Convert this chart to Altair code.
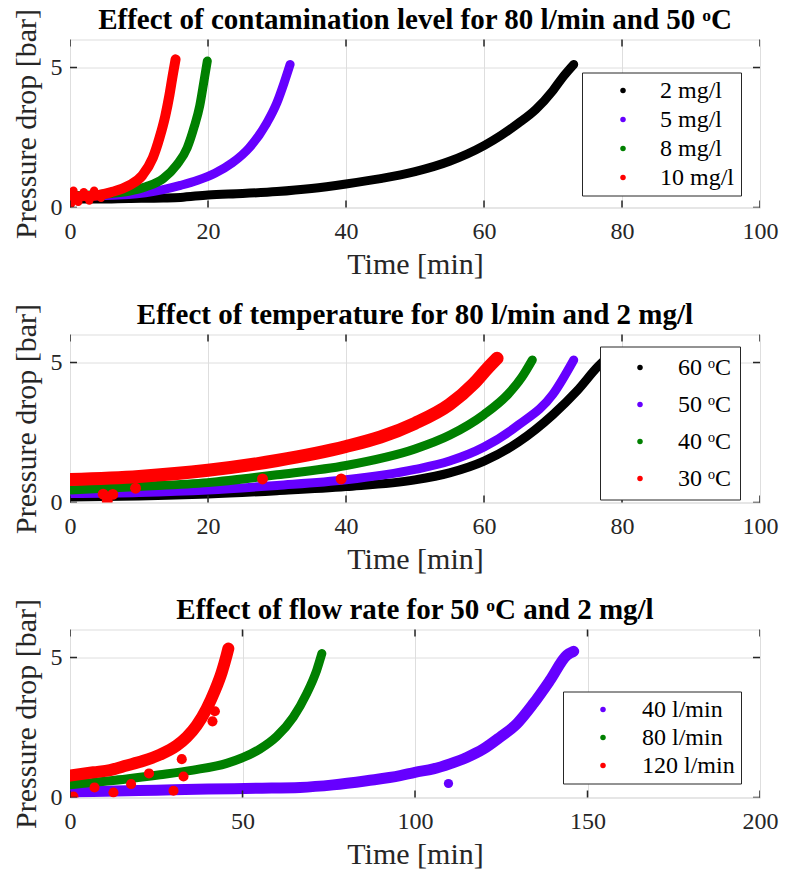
import altair as alt
import pandas as pd

# ---------------- data ----------------
# Panel 1: effect of contamination level (80 l/min, 50 oC)
P1_2_T = [0, 4, 8.5, 13.5, 16, 20, 25, 30, 35, 40, 45, 50, 55, 60, 62.5, 65, 67.5, 70, 71.5, 73]
P1_2_P = [0.3, 0.3, 0.32, 0.34, 0.36, 0.45, 0.5, 0.57, 0.68, 0.84, 1.03, 1.28, 1.65, 2.21, 2.58, 3.01, 3.5, 4.18, 4.68, 5.11]
P1_5_T = [0, 4, 8.5, 13.5, 16, 18.5, 21, 23.5, 26, 28.5, 30, 31, 31.9]
P1_5_P = [0.42, 0.42, 0.46, 0.64, 0.79, 0.97, 1.22, 1.59, 2.14, 3.01, 3.75, 4.43, 5.11]
P1_8_T = [0, 3, 6, 8.5, 11, 13.5, 15.5, 17, 18, 18.8, 19.4, 19.9]
P1_8_P = [0.42, 0.45, 0.5, 0.58, 0.74, 1.03, 1.53, 2.14, 2.88, 3.63, 4.49, 5.23]
P1_10_T = [0, 1.5, 3.5, 6, 8.5, 10.5, 12, 13, 13.8, 14.4, 14.9, 15.3]
P1_10_P = [0.35, 0.4, 0.42, 0.55, 0.78, 1.15, 1.77, 2.51, 3.26, 4.0, 4.74, 5.29]
P1_10_OUT_T = [0.2, 0.5, 1.2, 2.0, 2.8, 3.5, 4.5]
P1_10_OUT_P = [0.15, 0.6, 0.2, 0.55, 0.25, 0.6, 0.35]

# Panel 2: effect of temperature (80 l/min, 2 mg/l)
P2_60_T = [0, 10, 20, 30, 40, 50, 55, 60, 65, 70, 73.5, 76.5, 78]
P2_60_P = [0.2, 0.23, 0.3, 0.42, 0.57, 0.81, 1.06, 1.48, 2.16, 3.14, 3.99, 4.85, 5.2]
P2_50_T = [0, 10, 20, 30, 40, 50, 55, 60, 65, 70, 73]
P2_50_P = [0.32, 0.36, 0.45, 0.61, 0.81, 1.18, 1.48, 1.98, 2.77, 3.87, 5.09]
P2_40_T = [0, 10, 20, 30, 40, 50, 55, 60, 63.5, 65.5, 67]
P2_40_P = [0.45, 0.57, 0.71, 0.99, 1.32, 1.91, 2.4, 3.14, 3.87, 4.48, 5.09]
P2_30_T = [0, 10, 20, 30, 40, 45, 50, 55, 58.5, 60.5, 61.9]
P2_30_P = [0.82, 0.93, 1.15, 1.5, 2.0, 2.34, 2.83, 3.5, 4.24, 4.79, 5.15]
P2_30_OUT_T = [4.8, 5.4, 6.2, 9.5, 27.9, 39.3]
P2_30_OUT_P = [0.3, 0.05, 0.29, 0.51, 0.84, 0.84]

# Panel 3: effect of flow rate (50 oC, 2 mg/l)
P3_40_T = [0, 10, 25, 40, 55, 66.7, 76.3, 86, 95.7, 100, 105.3, 110.1, 115, 119.8, 124.6, 129.5, 134.3, 139.1, 144, 146]
P3_40_P = [0.2, 0.22, 0.26, 0.3, 0.33, 0.36, 0.45, 0.6, 0.78, 0.9, 1.02, 1.2, 1.43, 1.73, 2.15, 2.63, 3.35, 4.18, 5.08, 5.22]
P3_40_OUT_T = [109.7]
P3_40_OUT_P = [0.5]
P3_80_T = [0, 6.8, 16.4, 26.1, 35.7, 45.4, 50.2, 55, 59.9, 64.7, 68.6, 71.5, 73]
P3_80_P = [0.45, 0.54, 0.66, 0.81, 0.98, 1.22, 1.43, 1.73, 2.18, 2.87, 3.71, 4.54, 5.14]
P3_120_T = [0, 6.8, 11.6, 16.4, 21.3, 26.1, 30.9, 33.8, 36.7, 39.6, 42, 44, 45.4, 45.9]
P3_120_P = [0.78, 0.9, 0.98, 1.14, 1.31, 1.53, 1.85, 2.15, 2.57, 3.17, 3.82, 4.48, 5.08, 5.32]
P3_120_OUT_T = [1.0, 7.1, 12.6, 17.7, 22.9, 30, 32.9, 32.4, 41.3, 42]
P3_120_OUT_P = [0.03, 0.36, 0.18, 0.48, 0.86, 0.24, 0.75, 1.37, 2.72, 3.08]

P1_LABELS = ["2 mg/l", "5 mg/l", "8 mg/l", "10 mg/l"]
P2_LABELS = ["60 \u1d52C", "50 \u1d52C", "40 \u1d52C", "30 \u1d52C"]
P3_LABELS = ["40 l/min", "80 l/min", "120 l/min"]

TITLES = [
    "Effect of contamination level for 80 l/min and 50 \u1d52C",
    "Effect of temperature for 80 l/min and 2 mg/l",
    "Effect of flow rate for 50 \u1d52C and 2 mg/l",
]
X1_TICKS = [0, 20, 40, 60, 80, 100]
X3_TICKS = [0, 50, 100, 150, 200]
Y_TICKS = [0, 5]
Y_MAX = 6

# ---------------- styles ----------------
FONT = "Liberation Serif"
INK = "#262626"
BLACK, PURPLE, GREEN, RED = "#000000", "#6600ff", "#008000", "#ff0000"


def series(label, t, p, color, width, out_t=(), out_p=()):
    return dict(label=label, t=t, p=p, color=color, width=width,
                out_t=list(out_t), out_p=list(out_p))


def panel(title, items, xmax, xticks, lx, ly, pad, row_pad, sym_off, lab_off):
    domain = [s["label"] for s in items]
    crange = [s["color"] for s in items]
    xs = alt.Scale(domain=[0, xmax], nice=False, zero=False)
    ys = alt.Scale(domain=[0, Y_MAX], nice=False, zero=False)
    cs = alt.Scale(domain=domain, range=crange)
    main_x = alt.Axis(orient="bottom", values=xticks, title="Time [min]", grid=True,
                      domain=False, ticks=False, labelPadding=12, labelFlush=False,
                      labelFont=FONT, labelFontSize=24, labelColor=INK, titleFont=FONT,
                      titleFontSize=30, titleFontWeight="normal", titleColor=INK,
                      titlePadding=6, gridColor="#dedede", gridWidth=1)
    main_y = alt.Axis(orient="left", values=Y_TICKS, title="Pressure drop [bar]", grid=True,
                      domain=False, ticks=False, labelPadding=8, labelFont=FONT,
                      labelFontSize=24, labelColor=INK, titleFont=FONT, titleFontSize=30,
                      titleFontWeight="normal", titleColor=INK, titlePadding=9,
                      gridColor="#dedede", gridWidth=1)
    legend = alt.Legend(title=None, orient="none", legendX=lx, legendY=ly,
                        fillColor="white", strokeColor=INK, padding=pad, rowPadding=row_pad,
                        symbolType="circle", symbolSize=30, symbolStrokeWidth=0,
                        symbolOffset=sym_off, labelOffset=lab_off, labelFont=FONT,
                        labelFontSize=24, labelColor="black", labelLimit=300)
    layers = []
    for i, s in enumerate(items):
        df_line = pd.DataFrame({"t": s["t"], "p": s["p"]})
        df_pts = pd.DataFrame({"t": s["t"] + s["out_t"], "p": s["p"] + s["out_p"],
                               "s": s["label"]})
        if i == 0:
            lx_enc = alt.X("t:Q", scale=xs, axis=main_x)
            ly_enc = alt.Y("p:Q", scale=ys, axis=main_y)
        else:
            lx_enc = alt.X("t:Q", scale=xs)
            ly_enc = alt.Y("p:Q", scale=ys)
        line = alt.Chart(df_line).mark_line(
            color=s["color"], strokeWidth=s["width"], strokeCap="round", strokeJoin="round",
            interpolate="monotone", clip=True
        ).encode(x=lx_enc, y=ly_enc)
        pts = alt.Chart(df_pts).mark_circle(
            size=3.1416 * (s["width"] / 2) ** 2 * 0.9, opacity=1, clip=True
        ).encode(
            x=alt.X("t:Q", scale=xs),
            y=alt.Y("p:Q", scale=ys),
            color=alt.Color("s:N", scale=cs, legend=legend),
        )
        layers += [line, pts]

    # inward tick marks on all four sides, placed at the tick values
    xt = pd.DataFrame({"v": xticks * 2, "e": [0] * len(xticks) + [Y_MAX] * len(xticks)})
    yt = pd.DataFrame({"v": Y_TICKS * 2, "e": [0] * len(Y_TICKS) + [xmax] * len(Y_TICKS)})
    layers.append(alt.Chart(xt).mark_tick(orient="vertical", size=14, thickness=1.5,
                                          color=INK, clip=True, opacity=1).encode(
        x=alt.X("v:Q", scale=xs), y=alt.Y("e:Q", scale=ys)))
    layers.append(alt.Chart(yt).mark_tick(orient="horizontal", size=14, thickness=1.5,
                                          color=INK, clip=True, opacity=1).encode(
        x=alt.X("e:Q", scale=xs), y=alt.Y("v:Q", scale=ys)))

    return alt.layer(*layers).properties(
        width=690, height=168,
        title=alt.TitleParams(title, font=FONT, fontSize=29, fontWeight="bold",
                              color="black", anchor="middle", baseline="alphabetic",
                              frame="group", offset=-49),
    )


p1 = panel(TITLES[0], [
    series(P1_LABELS[0], P1_2_T, P1_2_P, BLACK, 9),
    series(P1_LABELS[1], P1_5_T, P1_5_P, PURPLE, 9),
    series(P1_LABELS[2], P1_8_T, P1_8_P, GREEN, 9),
    series(P1_LABELS[3], P1_10_T, P1_10_P, RED, 10, P1_10_OUT_T, P1_10_OUT_P),
], 100, X1_TICKS, 512, 33, 6, 5, 23, 25)

p2 = panel(TITLES[1], [
    series(P2_LABELS[0], P2_60_T, P2_60_P, BLACK, 9),
    series(P2_LABELS[1], P2_50_T, P2_50_P, PURPLE, 9),
    series(P2_LABELS[2], P2_40_T, P2_40_P, GREEN, 9),
    series(P2_LABELS[3], P2_30_T, P2_30_P, RED, 13, P2_30_OUT_T, P2_30_OUT_P),
], 100, X1_TICKS, 530, 12, 9, 13, 19, 26)

p3 = panel(TITLES[2], [
    series(P3_LABELS[0], P3_40_T, P3_40_P, PURPLE, 11, P3_40_OUT_T, P3_40_OUT_P),
    series(P3_LABELS[1], P3_80_T, P3_80_P, GREEN, 9),
    series(P3_LABELS[2], P3_120_T, P3_120_P, RED, 12, P3_120_OUT_T, P3_120_OUT_P),
], 200, X3_TICKS, 493, 62, 6, 4, 22, 27)

chart = alt.vconcat(p1, p2, p3, spacing=19).resolve_scale(color="independent").resolve_legend(
    color="independent"
).properties(
    padding={"left": 2, "top": -3.5, "right": 0, "bottom": 0}
).configure_view(stroke=INK, strokeWidth=1.5).configure(background="white")

chart.save("out.html", embed_options={"renderer": "svg", "actions": False})
